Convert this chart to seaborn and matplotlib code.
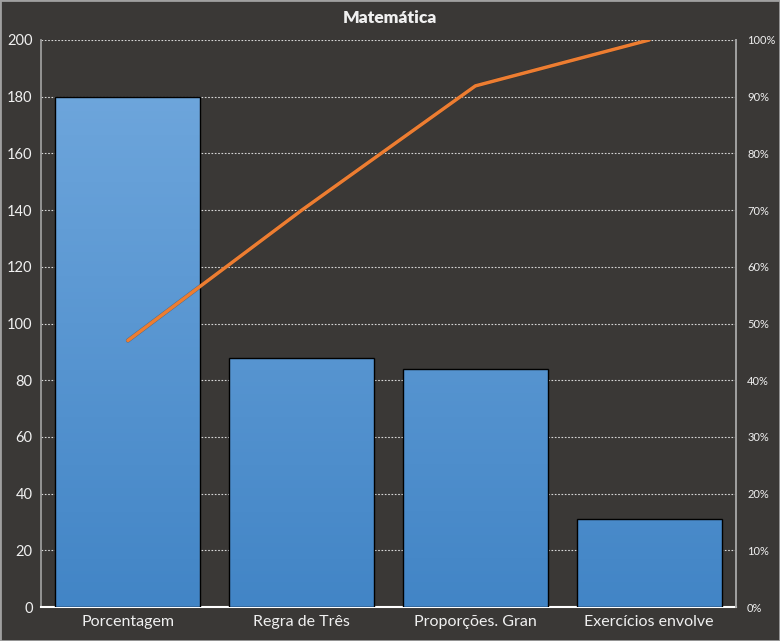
import numpy as np
import pandas as pd
import seaborn as sns
import matplotlib.pyplot as plt
from matplotlib.colors import LinearSegmentedColormap
from matplotlib.ticker import PercentFormatter

# data
categories = ['Porcentagem', 'Regra de Três', 'Proporções. Gran', 'Exercícios envolve']
counts = [180, 88, 84, 31]
cum_pct = np.cumsum(counts) / np.sum(counts)

bg = '#3a3836'
sns.set_theme(style='dark')
plt.rcParams['font.family'] = ['Lato', 'DejaVu Sans']

fig = plt.figure(figsize=(7.8, 6.41), dpi=100, facecolor=bg)
ax = fig.add_axes([0.0526, 0.053, 0.891, 0.8846])
ax.set_facecolor(bg)

df = pd.DataFrame({'cat': categories, 'n': counts})
sns.barplot(data=df, x='cat', y='n', ax=ax, width=0.835, color='#5b9bd5',
            edgecolor='black', linewidth=1.0, zorder=3)

# vertical gradient inside each bar
cmap = LinearSegmentedColormap.from_list('bl', ['#4285c6', '#72a9de'])
grad = np.linspace(0, 1, 256).reshape(-1, 1)
for p in ax.patches:
    im = ax.imshow(grad, cmap=cmap, aspect='auto', origin='lower',
                   extent=[-0.5, 3.5, 0, 200], zorder=3.5)
    im.set_clip_path(p)
    p.set_facecolor('none')
    p.set_zorder(4)
ax.set_xlim(-0.5, 3.5)
ax.set_ylim(0, 200)

ax.set_yticks(range(0, 201, 20))
ax.yaxis.grid(True, color='#d8d8d8', linestyle=(0, (1.5, 1.5)), linewidth=0.8)
ax.set_axisbelow(True)
ax.tick_params(axis='y', colors='#f0f0f0', labelsize=10.5, length=0, pad=6)
ax.tick_params(axis='x', colors='#f0f0f0', labelsize=11.5, length=0, pad=6)
ax.set_xlabel('')
ax.set_ylabel('')
ax.spines['top'].set_visible(False)
ax.spines['left'].set_color('#a0a0a0')
ax.spines['right'].set_color('#a0a0a0')
ax.spines['bottom'].set_color('#ffffff')
ax.spines['bottom'].set_linewidth(1.5)

ax2 = ax.twinx()
ax2.set_ylim(0, 1)
ax2.plot(range(len(categories)), cum_pct, color='#222222', lw=3, alpha=0.4, zorder=4)
ax2.plot(range(len(categories)), cum_pct, color='#ed7d31', lw=2.5, zorder=5)
ax2.set_yticks(np.arange(0, 1.01, 0.1))
ax2.yaxis.set_major_formatter(PercentFormatter(1.0, decimals=0))
ax2.tick_params(axis='y', colors='#f0f0f0', labelsize=8, length=0, pad=8)
for s in ['top', 'left', 'bottom']:
    ax2.spines[s].set_visible(False)
ax2.spines['right'].set_color('#a0a0a0')
ax2.grid(False)

fig.suptitle('Matemática', x=0.5, y=0.985, color='#f0f0f0', fontsize=12.5, fontweight='heavy')
fig.patches.append(plt.Rectangle((0, 0), 1, 1, transform=fig.transFigure, fill=False,
                                 edgecolor='#a0a0a0', linewidth=2))

fig.savefig('out.png', dpi=100, facecolor=bg)
